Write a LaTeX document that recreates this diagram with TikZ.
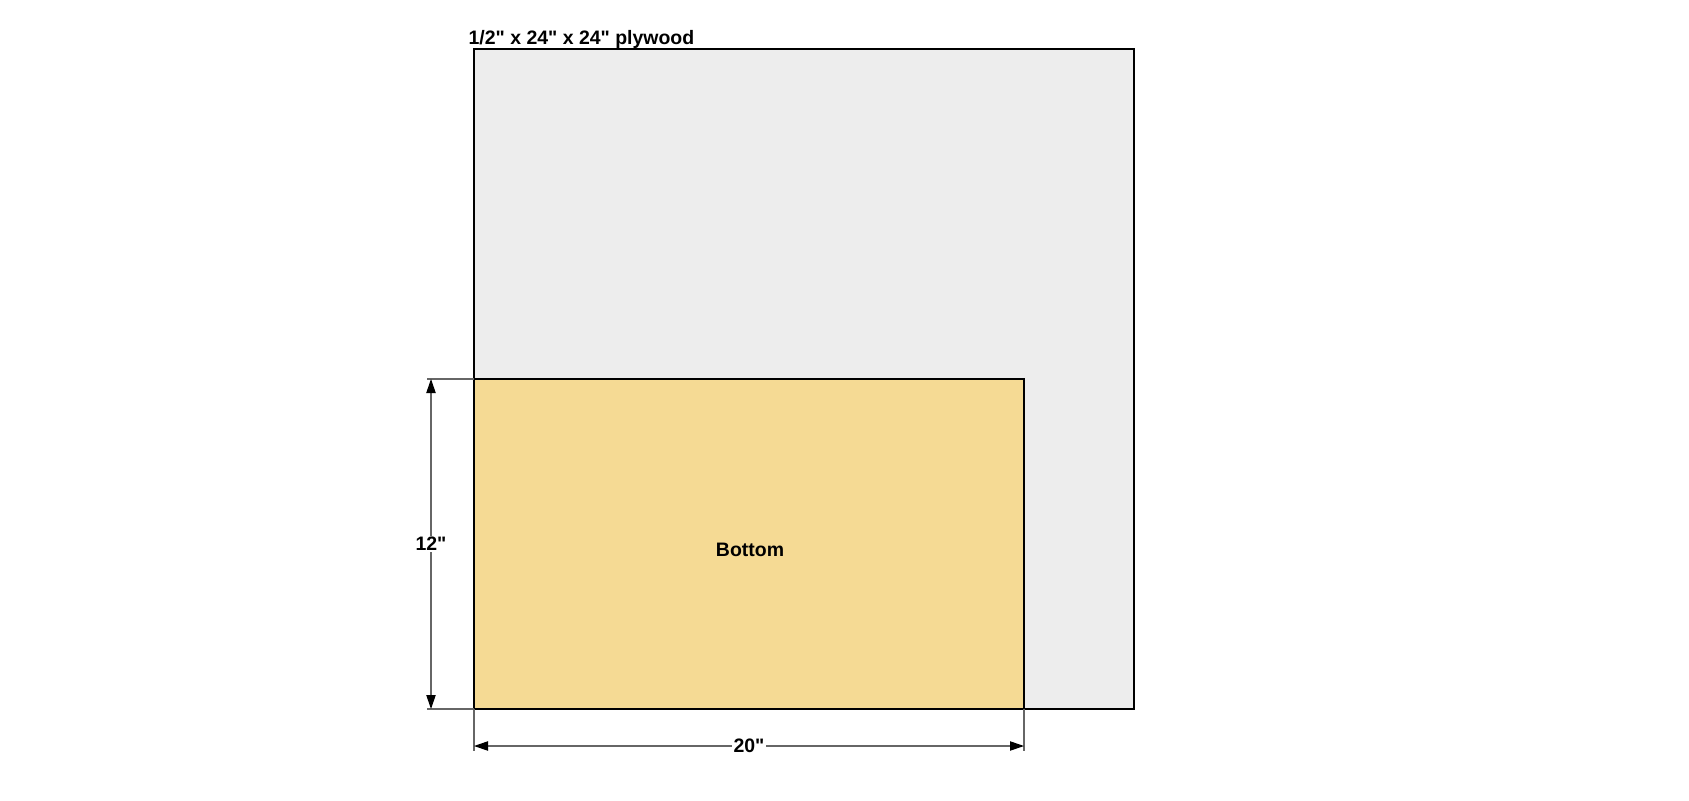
\documentclass[tikz,border=0pt]{standalone}
\usepackage{fontspec}
\setmainfont{Liberation Sans}[Ligatures=TeXOff]
\usetikzlibrary{arrows.meta,positioning}
\definecolor{plygray}{HTML}{EDEDED}
\definecolor{pine}{HTML}{F5DA94}

\begin{document}
\begin{tikzpicture}[x=0.75pt,y=-0.75pt,>={Triangle[length=10.5pt,width=7pt,color=black]},
                    board/.style={draw=black,line width=1.5pt},
                    dim line/.style={draw=black!60,line width=0.8pt},
                    cut label/.style={font=\fontsize{14.6}{17}\selectfont\bfseries,inner sep=1pt}]
  \useasboundingbox (0,0) rectangle (1689,800);

  % plywood sheet and the bottom piece
  \coordinate (ply nw) at (474,49);
  \coordinate (ply se) at (1134,709);
  \coordinate (bot nw) at (474,379);
  \coordinate (bot se) at (1024,709);
  \filldraw[board,fill=plygray] (ply nw) rectangle (ply se);
  \filldraw[board,fill=pine] (bot nw) rectangle (bot se);

  \node[cut label,anchor=base west] (sheet) at (467,44) {1/2" x 24" x 24" plywood};
  \node[cut label] (bottom) at (750,550) {Bottom};

  % dimension 12"
  \coordinate (h top) at (427,379);
  \coordinate (h bot) at (427,709);
  \coordinate (v top) at (431,379);
  \coordinate (v bot) at (431,709);
  \draw[dim line] (h top) -- (bot nw);
  \draw[dim line] (h bot) -- (474,709);
  \draw[dim line,<->] (v top) -- node[cut label,fill=white] (height) {12"} (v bot);

  % dimension 20"
  \coordinate (w left) at (474,751);
  \coordinate (w right) at (1024,751);
  \coordinate (d left) at (474,746);
  \coordinate (d right) at (1024,746);
  \draw[dim line] (474,709) -- (w left);
  \draw[dim line] (bot se) -- (w right);
  \draw[dim line,<->] (d left) -- node[cut label,fill=white] (width) {20"} (d right);
\end{tikzpicture}
\end{document}
